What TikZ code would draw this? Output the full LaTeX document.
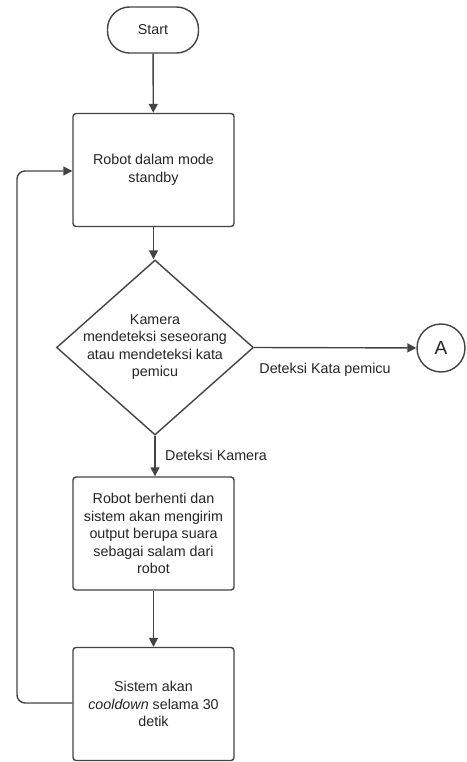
\documentclass[tikz,border=0pt]{standalone}
\usepackage{fontspec}
\setmainfont{Liberation Sans}
\usetikzlibrary{shapes.geometric,arrows.meta}
\definecolor{linegray}{HTML}{444444}
\definecolor{textgray}{HTML}{262626}
\begin{document}
\begin{tikzpicture}[x=1pt,y=-1pt,
  every node/.style={font=\fontsize{14.3}{17.5}\selectfont, text=textgray},
  procbox/.style={draw=linegray, line width=1.4pt, rounded corners=3pt,
    minimum width=161pt, minimum height=113pt, align=center, inner sep=0pt},
  terminal/.style={draw=linegray, line width=1.4pt, rounded rectangle,
    minimum width=91pt, minimum height=46pt},
  flow/.style={draw=linegray, line width=1.4pt, -{Triangle[length=9pt,width=9pt]}},
  lbl/.style={align=center, inner sep=0pt}
]
\useasboundingbox (0,0) rectangle (466,762);
\fill[white] (0,0) rectangle (466,762);

% terminal and process steps
\node[draw=linegray, line width=1.4pt, rounded corners=22pt,
      minimum width=91pt, minimum height=46pt] (start) at (153,30) {Start};
\node[procbox] (standby) at (153.5,170) {Robot dalam mode\\standby};
\node[diamond, draw=linegray, line width=1.4pt, minimum width=197pt,
      minimum height=175pt, inner sep=0pt] (cek) at (155,347.5) {};
\node[lbl] (cektxt) at (155,347) {Kamera\\mendeteksi seseorang\\atau mendeteksi kata\\pemicu};
\node[circle, draw=linegray, line width=1.4pt, minimum size=48pt, inner sep=0pt,
      font=\fontsize{19}{22}\selectfont] (conA) at (441,348) {A};
\node[procbox] (salam) at (153.5,533.5) {Robot berhenti dan\\sistem akan mengirim\\output berupa suara\\sebagai salam dari\\robot};
\node[procbox] (cool) at (153.5,704) {Sistem akan\\\textit{cooldown} selama 30\\detik};

% connectors
\draw[flow] (start) -- (standby);
\draw[flow] (standby) -- (standby.south |- cek.north);
\draw[flow] (cek.east) -- (conA);
\draw[flow] (cek.south) -- (salam.north -| cek.south);
\draw[flow] (salam) -- (cool);
\coordinate (loopcorner) at (17,703);
\draw[flow, rounded corners=8pt] (cool.west |- 0,703) -- (loopcorner) -- (17,171) -- (standby.west |- 0,171);

% branch labels
\node[lbl, anchor=west] (lblkam) at (165,455) {Deteksi Kamera};
\node[lbl] (lblkata) at (325,370) {Deteksi Kata pemicu};
\end{tikzpicture}
\end{document}
